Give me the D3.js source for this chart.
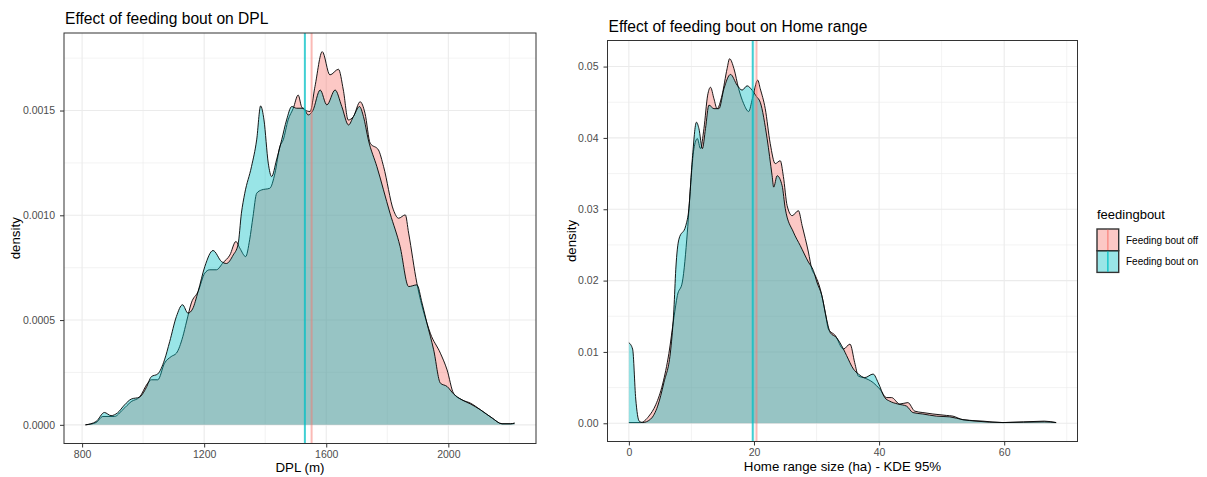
<!DOCTYPE html>
<html>
<head>
<meta charset="utf-8">
<script src="https://cdn.jsdelivr.net/npm/d3@7"></script>
<style>
  body { margin: 0; background: #fff; }
  text { font-family: "Liberation Sans", Arial, sans-serif; }
</style>
</head>
<body>
<script>
// ---- data ----
const groups = ["Feeding bout off", "Feeding bout on"];
const groupColors = ["#F8766D", "#00BFC4"];

// DPL density, feeding bout off
const dplOffX = [811, 846, 868, 906, 933, 961, 988, 1015, 1027, 1048, 1070, 1092, 1109, 1130, 1142, 1158, 1180,
  1202, 1218, 1240, 1262, 1284, 1304, 1317, 1336, 1349, 1360, 1372, 1388, 1415, 1432, 1448, 1459, 1475, 1492,
  1508, 1519, 1530, 1547, 1563, 1587, 1612, 1640, 1656, 1672, 1689, 1711, 1727, 1744, 1771, 1788, 1820, 1837,
  1859, 1870, 1897, 1930, 1941, 1974, 1996, 2017, 2045, 2072, 2105, 2144, 2176, 2204, 2217];
const dplOffY = [0, 0.000011, 0.000040, 0.000040, 0.000072, 0.000111, 0.000132, 0.000199, 0.000215, 0.000215,
  0.000294, 0.000326, 0.000342, 0.000421, 0.000491, 0.000582, 0.000636, 0.000724, 0.000740, 0.000740, 0.000774,
  0.000810, 0.000875, 0.000843, 0.000803, 0.000883, 0.000994, 0.001105, 0.001121, 0.001129, 0.001201, 0.001328,
  0.001360, 0.001455, 0.001511, 0.001574, 0.001519, 0.001503, 0.001495, 0.001614, 0.001781, 0.001670, 0.001697,
  0.001598, 0.001455, 0.001471, 0.001542, 0.001487, 0.001344, 0.001312, 0.001232, 0.001026, 0.000986, 0.001002,
  0.000915, 0.000676, 0.000485, 0.000437, 0.000342, 0.000262, 0.000151, 0.000119, 0.000104, 0.000072, 0.000032,
  0.000005, 0.000005, 0.000008];

// DPL density, feeding bout on
const dplOnX = [811, 846, 873, 895, 916, 939, 961, 988, 1010, 1027, 1048, 1070, 1087, 1109, 1129, 1147, 1162,
  1180, 1202, 1229, 1257, 1273, 1295, 1311, 1322, 1333, 1355, 1372, 1385, 1396, 1410, 1421, 1437, 1454, 1470,
  1487, 1503, 1525, 1541, 1556, 1580, 1602, 1629, 1651, 1673, 1689, 1709, 1722, 1738, 1766, 1809, 1842, 1870,
  1897, 1914, 1930, 1952, 1974, 1996, 2017, 2045, 2072, 2105, 2144, 2176, 2204, 2217];
const dplOnY = [0, 0.000016, 0.000059, 0.000044, 0.000057, 0.000095, 0.000123, 0.000132, 0.000177, 0.000230,
  0.000243, 0.000310, 0.000397, 0.000517, 0.000573, 0.000533, 0.000553, 0.000636, 0.000755, 0.000832, 0.000779,
  0.000770, 0.000810, 0.000860, 0.001010, 0.001105, 0.001232, 0.001360, 0.001522, 0.001455, 0.001249, 0.001185,
  0.001264, 0.001360, 0.001455, 0.001519, 0.001511, 0.001511, 0.001479, 0.001500, 0.001598, 0.001527, 0.001598,
  0.001519, 0.001431, 0.001471, 0.001519, 0.001471, 0.001360, 0.001232, 0.001010, 0.000851, 0.000660, 0.000668,
  0.000581, 0.000485, 0.000358, 0.000199, 0.000183, 0.000148, 0.000119, 0.000100, 0.000072, 0.000032, 0.000005,
  0.000005, 0.000008];

// Home range density, feeding bout off
const hrOffX = [0, 1.9, 3.2, 4.3, 5.4, 6.4, 7.2, 7.75, 8.55, 9.35, 9.9, 10.4, 10.95, 11.45, 12.0, 12.6, 13.05,
  13.6, 14.1, 14.9, 15.7, 16.1, 16.8, 17.55, 18.35, 19.15, 19.75, 20.6, 21.0, 21.8, 22.6, 23.4, 24.2, 24.7, 25.3,
  26.1, 27.1, 27.7, 28.7, 29.25, 29.8, 30.6, 31.4, 31.9, 33.0, 34.3, 35.35, 36.1, 36.7, 37.5, 39.05, 40.1, 41.2,
  42.0, 43.3, 44.6, 45.7, 47.0, 48.6, 50.75, 51.8, 53.4, 56.6, 59.8, 66.4, 68.3];
const hrOffY = [0.0001, 0.0001, 0.0010, 0.0026, 0.0055, 0.0098, 0.0148, 0.0179, 0.0198, 0.0268, 0.0338, 0.0385,
  0.0399, 0.0385, 0.0413, 0.0460, 0.0471, 0.0455, 0.0441, 0.0460, 0.0497, 0.0511, 0.0497, 0.0469, 0.0448, 0.0437,
  0.0455, 0.0481, 0.0469, 0.0441, 0.0392, 0.0364, 0.0368, 0.0346, 0.0305, 0.0291, 0.0298, 0.0277, 0.0240, 0.0216,
  0.0207, 0.0188, 0.0155, 0.0132, 0.0123, 0.0104, 0.0111, 0.0085, 0.0066, 0.0064, 0.0057, 0.0048, 0.0036, 0.0036,
  0.0027, 0.0029, 0.0017, 0.0015, 0.0013, 0.0011, 0.0010, 0.0005, 0.0003, 0.0001, 0.0003, 0.0001];

// Home range density, feeding bout on
const hrOnX = [0, 0.6, 1.1, 1.65, 2.2, 3.5, 4.6, 5.6, 6.7, 7.2, 7.5, 8.0, 9.1, 9.6, 10.15, 10.8, 11.2, 11.75,
  12.25, 12.8, 13.6, 14.4, 15.2, 16.25, 17.3, 18.1, 18.9, 19.7, 20.4, 21.0, 22.1, 22.9, 23.15, 23.7, 24.5, 25.0,
  26.3, 27.4, 28.7, 29.5, 30.05, 30.85, 31.6, 32.2, 33.2, 34.3, 34.8, 35.9, 36.7, 37.7, 39.05, 39.85, 40.9, 41.7,
  43.0, 44.4, 45.4, 47.0, 49.15, 51.3, 53.4, 55.5, 59.8, 66.4, 68.3];
const hrOnY = [0.0113, 0.0104, 0.0034, 0.0003, 0.0001, 0.0006, 0.0024, 0.0057, 0.0104, 0.0160, 0.0216, 0.0258,
  0.0277, 0.0301, 0.0371, 0.0422, 0.0413, 0.0385, 0.0413, 0.0446, 0.0441, 0.0441, 0.0469, 0.0489, 0.0474, 0.0467,
  0.0473, 0.0467, 0.0458, 0.0450, 0.0399, 0.0347, 0.0331, 0.0347, 0.0333, 0.0301, 0.0268, 0.0249, 0.0226, 0.0214,
  0.0198, 0.0179, 0.0146, 0.0127, 0.0120, 0.0104, 0.0095, 0.0076, 0.0069, 0.0064, 0.0069, 0.0057, 0.0036, 0.0031,
  0.0027, 0.0024, 0.0015, 0.0013, 0.0010, 0.0009, 0.0005, 0.0003, 0.0001, 0.0002, 0.0001];

// group means (vertical lines)
const dplMeans = [1552, 1530];
const hrMeans = [20.4, 19.8];

// tick labels
const dplXTicks = [800, 1200, 1600, 2000];
const dplYTicks = [0, 0.0005, 0.0010, 0.0015];
const hrXTicks = [0, 20, 40, 60];
const hrYTicks = [0, 0.01, 0.02, 0.03, 0.04, 0.05];

// ---- drawing ----
const width = 1207, height = 477;
const svg = d3.select("body").append("svg")
    .attr("width", width)
    .attr("height", height);

function expand(ext) {
    let pad = (ext[1] - ext[0]) * 0.05;
    return [ext[0] - pad, ext[1] + pad];
}

function minorOf(ticks, domain) {
    let step = ticks[1] - ticks[0];
    let out = [];
    for (let i = -1; i < ticks.length; i++) {
        let m = ticks[0] + step * (i + 0.5);
        if (m > domain[0] && m < domain[1]) out.push(m);
    }
    return out;
}

function drawPanel(o) {
    let allX = o.series.flatMap(s => s.x);
    let allY = o.series.flatMap(s => s.y);
    let x = d3.scaleLinear().domain(expand(d3.extent(allX))).range([o.left, o.right]);
    let y = d3.scaleLinear().domain(expand([0, d3.max(allY)])).range([o.bottom, o.top]);

    let g = svg.append("g");

    // grid
    let grid = g.append("g");
    for (let v of minorOf(o.yTicks, y.domain())) {
        grid.append("line").attr("x1", o.left).attr("x2", o.right)
            .attr("y1", y(v)).attr("y2", y(v))
            .attr("stroke", "#EBEBEB").attr("stroke-width", 0.6);
    }
    for (let v of minorOf(o.xTicks, x.domain())) {
        grid.append("line").attr("y1", o.top).attr("y2", o.bottom)
            .attr("x1", x(v)).attr("x2", x(v))
            .attr("stroke", "#EBEBEB").attr("stroke-width", 0.6);
    }
    for (let v of o.yTicks) {
        grid.append("line").attr("x1", o.left).attr("x2", o.right)
            .attr("y1", y(v)).attr("y2", y(v))
            .attr("stroke", "#EBEBEB").attr("stroke-width", 1.1);
    }
    for (let v of o.xTicks) {
        grid.append("line").attr("y1", o.top).attr("y2", o.bottom)
            .attr("x1", x(v)).attr("x2", x(v))
            .attr("stroke", "#EBEBEB").attr("stroke-width", 1.1);
    }

    let area = d3.area()
        .x(d => x(d[0]))
        .y0(y(0))
        .y1(d => y(d[1]))
        .curve(d3.curveMonotoneX);
    let line = d3.line()
        .x(d => x(d[0]))
        .y(d => y(d[1]))
        .curve(d3.curveMonotoneX);

    o.series.forEach((s, i) => {
        let pts = s.x.map((v, j) => [v, s.y[j]]);
        g.append("path").datum(pts)
            .attr("fill", groupColors[i])
            .attr("fill-opacity", 0.4)
            .attr("d", area);
        g.append("path").datum(pts)
            .attr("fill", "none")
            .attr("stroke", "#000")
            .attr("stroke-width", 0.9)
            .attr("d", line);
    });

    // mean lines
    o.means.forEach((m, i) => {
        g.append("line")
            .attr("x1", x(m)).attr("x2", x(m))
            .attr("y1", o.top).attr("y2", o.bottom)
            .attr("stroke", groupColors[i])
            .attr("stroke-opacity", i == 0 ? 0.5 : 0.75)
            .attr("stroke-width", 2);
    });

    // panel border
    g.append("rect")
        .attr("x", o.left).attr("y", o.top)
        .attr("width", o.right - o.left).attr("height", o.bottom - o.top)
        .attr("fill", "none").attr("stroke", "#333333").attr("stroke-width", 1);

    let xAxis = g.append("g")
        .attr("transform", `translate(0,${o.bottom})`)
        .call(d3.axisBottom(x).tickValues(o.xTicks).tickSize(4).tickPadding(3).tickFormat(o.xFormat));
    let yAxis = g.append("g")
        .attr("transform", `translate(${o.left},0)`)
        .call(d3.axisLeft(y).tickValues(o.yTicks).tickSize(4).tickPadding(5).tickFormat(o.yFormat));
    for (let ax of [xAxis, yAxis]) {
        ax.select(".domain").remove();
        ax.selectAll(".tick line").attr("stroke", "#333333");
        ax.selectAll(".tick text")
            .attr("fill", "#4D4D4D")
            .style("font-size", "10.5px")
            .style("font-family", "Liberation Sans, Arial, sans-serif");
    }

    g.append("text")
        .attr("x", o.left + 1)
        .attr("y", o.titleY)
        .style("font-size", "15.6px")
        .attr("fill", "#000")
        .text(o.title);

    g.append("text")
        .attr("x", (o.left + o.right) / 2)
        .attr("y", o.xLabelY)
        .attr("text-anchor", "middle")
        .style("font-size", "13.3px")
        .text(o.xLabel);

    g.append("text")
        .attr("transform", `translate(${o.yLabelX},${(o.top + o.bottom) / 2}) rotate(-90)`)
        .attr("text-anchor", "middle")
        .style("font-size", "13.3px")
        .text("density");
}

drawPanel({
    left: 64, right: 536, top: 33, bottom: 443.5,
    series: [{ x: dplOffX, y: dplOffY }, { x: dplOnX, y: dplOnY }],
    means: dplMeans,
    xTicks: dplXTicks, yTicks: dplYTicks,
    xFormat: d3.format("d"), yFormat: d3.format(".4f"),
    title: "Effect of feeding bout on DPL", titleY: 24,
    xLabel: "DPL (m)", xLabelY: 472,
    yLabelX: 20
});

drawPanel({
    left: 607.5, right: 1077.5, top: 40.5, bottom: 441.5,
    series: [{ x: hrOffX, y: hrOffY }, { x: hrOnX, y: hrOnY }],
    means: hrMeans,
    xTicks: hrXTicks, yTicks: hrYTicks,
    xFormat: d3.format("d"), yFormat: d3.format(".2f"),
    title: "Effect of feeding bout on Home range", titleY: 31.5,
    xLabel: "Home range size (ha) - KDE 95%", xLabelY: 471,
    yLabelX: 576
});

// legend
let legend = svg.append("g").attr("transform", "translate(1097,0)");
legend.append("text")
    .attr("x", 0).attr("y", 219)
    .style("font-size", "13px")
    .text("feedingbout");
groups.forEach((name, i) => {
    let ky = 229 + i * 21.7;
    let k = legend.append("g");
    k.append("rect")
        .attr("x", 0).attr("y", ky).attr("width", 21.7).attr("height", 21.7)
        .attr("fill", groupColors[i]).attr("fill-opacity", 0.4)
        .attr("stroke", "#333333").attr("stroke-width", 1.4);
    k.append("line")
        .attr("x1", 10.85).attr("x2", 10.85)
        .attr("y1", ky + 0.7).attr("y2", ky + 21)
        .attr("stroke", groupColors[i])
        .attr("stroke-opacity", i == 0 ? 0.7 : 0.85)
        .attr("stroke-width", 1.5);
    k.append("text")
        .attr("x", 29).attr("y", ky + 14.5)
        .style("font-size", "10px")
        .attr("fill", "#000")
        .text(name);
});
</script>
</body>
</html>
